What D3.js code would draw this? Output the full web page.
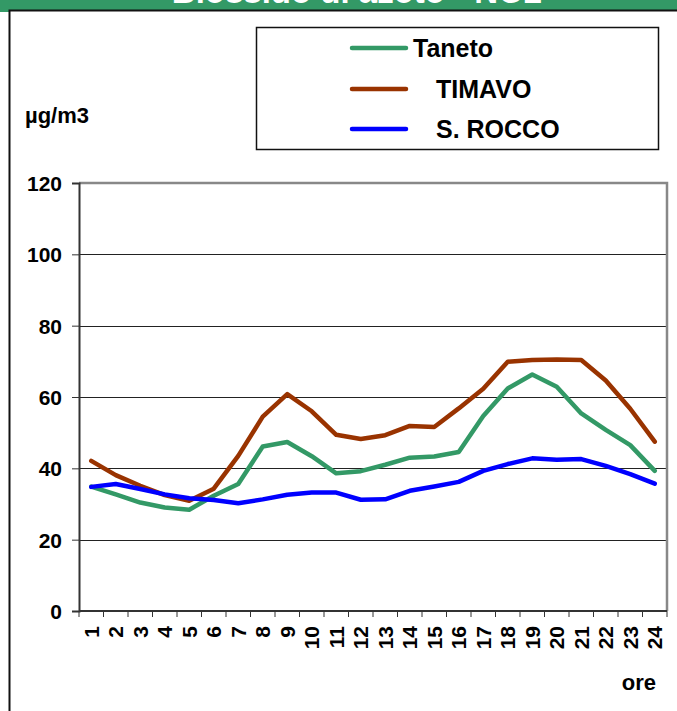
<!DOCTYPE html>
<meta charset="utf-8">
<head>
  <style>
    body { margin: 0; background: #fff; }
    svg { display: block; }
    text { font-family: "Liberation Sans", Arial, sans-serif; font-weight: bold; }
    .grid line { stroke: #222; stroke-width: 1px; }
  </style>
  <script src="https://d3js.org/d3.v7.min.js"></script>
</head>
<body>
  <svg width="677" height="711"></svg>
  <script>
    var hours = d3.range(1, 25).map(String);
    var yTicks = [0, 20, 40, 60, 80, 100, 120];

    var taneto = [34.9, 32.7, 30.4, 29.0, 28.4, 32.3, 35.6, 46.1, 47.4, 43.4, 38.6, 39.2,
                  41.0, 43.0, 43.3, 44.6, 54.7, 62.4, 66.3, 62.9, 55.4, 50.8, 46.5, 39.3];
    var timavo = [42.1, 38.1, 35.1, 32.5, 30.9, 34.3, 43.5, 54.5, 60.8, 56.0, 49.4, 48.2,
                  49.3, 51.9, 51.6, 56.8, 62.3, 69.9, 70.4, 70.5, 70.4, 64.6, 56.7, 47.5];
    var sRocco = [34.8, 35.6, 34.2, 32.7, 31.6, 31.1, 30.2, 31.3, 32.6, 33.2, 33.2, 31.2,
                  31.3, 33.7, 34.9, 36.2, 39.3, 41.2, 42.8, 42.4, 42.6, 40.7, 38.4, 35.7];

    var series = [
      { name: "Taneto", values: taneto, color: "#339966" },
      { name: "TIMAVO", values: timavo, color: "#993300" },
      { name: "S. ROCCO", values: sRocco, color: "#0000ff" }
    ];

    var svg = d3.select("svg");

    // green header strip with the title, mostly cut off at the top
    svg.append("rect").attr("x", 0).attr("y", 0).attr("width", 677).attr("height", 10).attr("fill", "#339966");
    svg.append("rect").attr("x", 0).attr("y", 0).attr("width", 9).attr("height", 12).attr("fill", "#339966");
    svg.append("text")
      .attr("x", 357).attr("y", 3)
      .attr("text-anchor", "middle")
      .attr("fill", "#fff")
      .style("font-size", "33px")
      .text("Biossido di azoto - NO2");

    // outer frame
    svg.append("path")
      .attr("d", "M9.5,711 V10.5 H677")
      .attr("fill", "none")
      .attr("stroke", "#111")
      .attr("stroke-width", 2);

    var plotL = 79, plotR = 667, plotT = 183, plotB = 611;

    var x = d3.scaleBand().domain(hours).range([plotL, plotR]);
    var y = d3.scaleLinear().domain([0, 120]).range([plotB, plotT]);

    // horizontal grid
    svg.append("g")
      .attr("class", "grid")
      .selectAll("line")
      .data(yTicks.filter(function(d) { return d > 0 && d < 120; }))
      .enter().append("line")
      .attr("x1", plotL).attr("x2", plotR)
      .attr("y1", function(d) { return Math.round(y(d)) + 0.5; })
      .attr("y2", function(d) { return Math.round(y(d)) + 0.5; });

    // gray top and right border of the plot
    svg.append("path")
      .attr("d", "M" + plotL + "," + plotT + " H" + plotR + " V" + plotB)
      .attr("fill", "none")
      .attr("stroke", "#888")
      .attr("stroke-width", 2.5);

    // y axis
    var yAxis = svg.append("g")
      .attr("transform", "translate(" + plotL + ",0)")
      .call(d3.axisLeft(y).tickValues(yTicks).tickSize(7).tickPadding(10));
    yAxis.attr("font-family", null).attr("font-size", null);
    yAxis.select(".domain").attr("stroke", "#333").attr("stroke-width", 2);
    yAxis.selectAll(".tick line").attr("stroke", "#333");
    yAxis.selectAll("text").style("font-size", "21px").attr("fill", "#000").attr("dy", "0.36em");

    // x axis: ticks on band boundaries
    var xg = svg.append("g").attr("transform", "translate(0," + plotB + ")");
    xg.append("line").attr("x1", plotL).attr("x2", plotR).attr("stroke", "#333").attr("stroke-width", 2);
    xg.selectAll(".tk")
      .data(hours.concat(["end"]))
      .enter().append("line")
      .attr("class", "tk")
      .attr("x1", function(d, i) { return plotL + i * x.bandwidth(); })
      .attr("x2", function(d, i) { return plotL + i * x.bandwidth(); })
      .attr("y1", 0).attr("y2", 6)
      .attr("stroke", "#333");
    xg.selectAll(".lbl")
      .data(hours)
      .enter().append("text")
      .attr("class", "lbl")
      .attr("transform", function(d) {
        return "translate(" + (x(d) + x.bandwidth() / 2 + 7.5) + ",15) rotate(-90)";
      })
      .attr("text-anchor", "end")
      .style("font-size", "21px")
      .text(function(d) { return d; });

    // series lines
    var line = d3.line()
      .x(function(d, i) { return x(hours[i]) + x.bandwidth() / 2; })
      .y(function(d) { return y(d); });

    svg.selectAll(".series")
      .data(series)
      .enter().append("path")
      .attr("class", "series")
      .attr("d", function(d) { return line(d.values); })
      .attr("fill", "none")
      .attr("stroke", function(d) { return d.color; })
      .attr("stroke-width", 4.5)
      .attr("stroke-linejoin", "round")
      .attr("stroke-linecap", "round");

    // axis titles
    svg.append("text").attr("x", 25).attr("y", 123).style("font-size", "22px").text("µg/m3");
    svg.append("text").attr("x", 656).attr("y", 690).attr("text-anchor", "end").style("font-size", "22px").text("ore");

    // legend
    var legend = svg.append("g");
    legend.append("rect")
      .attr("x", 256.5).attr("y", 27.5).attr("width", 402).attr("height", 122)
      .attr("fill", "#fff").attr("stroke", "#111").attr("stroke-width", 1.5);
    var legX = [413, 436, 436];
    var legY = [48, 89, 129];
    series.forEach(function(s, i) {
      legend.append("line")
        .attr("x1", 352).attr("x2", 406)
        .attr("y1", legY[i]).attr("y2", legY[i])
        .attr("stroke", s.color).attr("stroke-width", 4.5).attr("stroke-linecap", "round");
      legend.append("text")
        .attr("x", legX[i]).attr("y", legY[i] + 9)
        .style("font-size", "25px")
        .text(s.name);
    });
  </script>
</body>
